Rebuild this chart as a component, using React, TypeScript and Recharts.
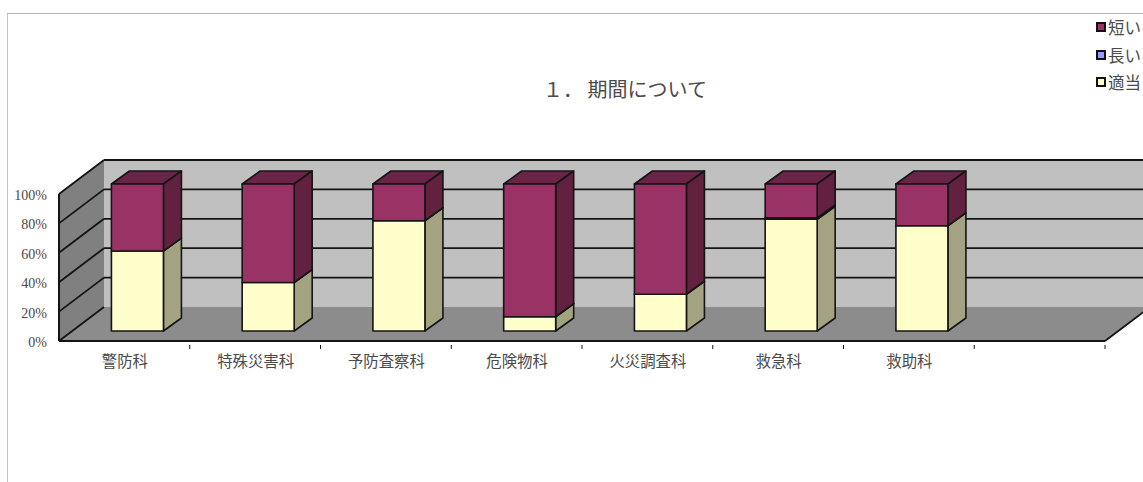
import { BarChart, Bar, XAxis, YAxis, CartesianGrid, Legend, usePlotArea } from 'recharts';

const departments = ['警防科', '特殊災害科', '予防査察科', '危険物科', '火災調査科', '救急科', '救助科', ''];
const adequate = [54.4, 33, 75, 9.7, 25, 76, 71.6, 0];
const tooLong = [0, 0, 0, 0, 0, 1, 0, 0];
const tooShort = [45.6, 67, 25, 90.3, 75, 23, 28.4, 0];
const percentTicks = [0, 20, 40, 60, 80, 100];

const rows = departments.map((name, i) => ({
  name,
  adequate: adequate[i],
  tooLong: tooLong[i],
  tooShort: tooShort[i],
}));

const WIDTH = 1143;
const HEIGHT = 482;
const SERIF = '"Liberation Serif", "Noto Sans CJK JP", serif';
const GOTHIC = '"Noto Sans CJK JP", sans-serif';

// how far the back wall sits behind the axis plane
const WALL_DX = 45;
const WALL_DY = 34;
// bars stand a little way in from the front edge of the floor
const BAR_DX = 13.2;
const BAR_DY = 10;
const BAR_DEPTH_X = 18;
const BAR_DEPTH_Y = 13;
const EDGE = '#141414';

function Walls() {
  const plot = usePlotArea();
  if (!plot) return null;
  const left = plot.x;
  const right = plot.x + plot.width;
  const top = plot.y;
  const bottom = plot.y + plot.height;
  const pts = (list: number[][]) => list.map((p) => p.join(',')).join(' ');
  return (
    <g>
      <polygon
        points={pts([[left + WALL_DX, top - WALL_DY], [right + WALL_DX, top - WALL_DY], [right + WALL_DX, bottom - WALL_DY], [left + WALL_DX, bottom - WALL_DY]])}
        fill="#c0c0c0"
      />
      <polygon
        points={pts([[left, top], [left + WALL_DX, top - WALL_DY], [left + WALL_DX, bottom - WALL_DY], [left, bottom]])}
        fill="#808080"
      />
      <polygon
        points={pts([[left, bottom], [right, bottom], [right + WALL_DX, bottom - WALL_DY], [left + WALL_DX, bottom - WALL_DY]])}
        fill="#8c8c8c"
      />
      <line x1={right} y1={bottom} x2={right + WALL_DX} y2={bottom - WALL_DY} stroke={EDGE} strokeWidth={1.8} />
    </g>
  );
}

// each grid line runs up the left wall, then along the back wall
function WallGridLine(props: any) {
  const { x1, x2, y1 } = props;
  const backY = y1 - WALL_DY;
  const isFloor = Math.abs(y1 - 341) < 1;
  return (
    <g>
      <line x1={x1} y1={y1} x2={x1 + WALL_DX} y2={backY} stroke={EDGE} strokeWidth={1.8} />
      {!isFloor && <line x1={x1 + WALL_DX} y1={backY} x2={x2 + WALL_DX} y2={backY} stroke={EDGE} strokeWidth={1.8} />}
    </g>
  );
}

function Box3D(props: any) {
  const { x, y, width, height, fill, sideFill, topFill } = props;
  if (!height || height <= 0) return null;
  const l = x + BAR_DX;
  const r = l + width;
  const t = y - BAR_DY;
  const b = t + height;
  const dx = BAR_DEPTH_X;
  const dy = BAR_DEPTH_Y;
  return (
    <g stroke={EDGE} strokeWidth={1.6} strokeLinejoin="round">
      <polygon points={`${l},${t} ${r},${t} ${r + dx},${t - dy} ${l + dx},${t - dy}`} fill={topFill} />
      <polygon points={`${r},${t} ${r + dx},${t - dy} ${r + dx},${b - dy} ${r},${b}`} fill={sideFill} />
      <rect x={l} y={t} width={width} height={height} fill={fill} />
    </g>
  );
}

function DepartmentTick(props: any) {
  const { x, y, payload } = props;
  const band = (1105 - 59) / departments.length;
  const boundary = x + band / 2;
  return (
    <g>
      <line x1={boundary} y1={y} x2={boundary} y2={y - 4} stroke={EDGE} strokeWidth={1} />
      <text x={x + 0.5} y={y + 18} textAnchor="middle" fontSize={15.4} fontFamily={SERIF} fill="#4a4a4a">
        {payload.value}
      </text>
    </g>
  );
}

function LegendList(props: any) {
  const items = [...(props.payload || [])].reverse();
  return (
    <div>
      {items.map((item: any) => (
        <div key={item.value} style={{ display: 'flex', alignItems: 'center', height: 27.5 }}>
          <span
            style={{
              display: 'inline-block',
              width: 6,
              height: 6,
              border: '2px solid #111',
              background: item.color,
              marginRight: 2,
            }}
          />
          <span style={{ fontFamily: GOTHIC, fontSize: 16.5, color: '#4a4a4a', whiteSpace: 'nowrap' }}>{item.value}</span>
        </div>
      ))}
    </div>
  );
}

export default function App() {
  return (
    <div style={{ position: 'absolute', left: 0, top: 0, width: WIDTH, height: HEIGHT, overflow: 'hidden', background: '#fff' }}>
      <div
        style={{
          position: 'absolute',
          left: 7,
          top: 13,
          right: 0,
          bottom: 0,
          borderTop: '1px solid #b4b4b4',
          borderLeft: '1px solid #c4c4c4',
        }}
      />
      <BarChart
        width={WIDTH}
        height={HEIGHT}
        data={rows}
        barCategoryGap="30%"
        margin={{ top: 194, right: 38, bottom: 0, left: 0 }}
        style={{ position: 'absolute', left: 0, top: 0 }}
      >
        <Walls />
        <CartesianGrid
          zIndex={1}
          vertical={false}
          horizontal={(p: any) => <WallGridLine key={p.index} {...p} />}
          syncWithTicks
        />
        <XAxis
          dataKey="name"
          height={141}
          interval={0}
          tickLine={false}
          axisLine={{ stroke: EDGE, strokeWidth: 2 }}
          tick={<DepartmentTick />}
        />
        <YAxis
          width={59}
          domain={[0, 100]}
          ticks={percentTicks}
          interval={0}
          tickLine={false}
          tickSize={0}
          tickMargin={12}
          tickFormatter={(v: number) => `${v}%`}
          axisLine={{ stroke: EDGE, strokeWidth: 2 }}
          tick={{ fontSize: 14, fontFamily: SERIF, fill: '#4a4a4a', dy: 1 }}
        />
        <Legend
          layout="horizontal"
          align="center"
          verticalAlign="middle"
          itemSorter={null}
          content={<LegendList />}
          wrapperStyle={{ left: 1096, top: 13.5, width: 50, height: 84 }}
        />
        <Bar
          dataKey="adequate"
          name="適当"
          stackId="a"
          fill="#ffffcc"
          isAnimationActive={false}
          shape={(p: any) => <Box3D {...p} sideFill="#a3a382" topFill="#cccca3" />}
        />
        <Bar
          dataKey="tooLong"
          name="長い"
          stackId="a"
          fill="#9999ff"
          isAnimationActive={false}
          shape={(p: any) => <Box3D {...p} sideFill="#5c5c99" topFill="#6b6bb2" />}
        />
        <Bar
          dataKey="tooShort"
          name="短い"
          stackId="a"
          fill="#993366"
          isAnimationActive={false}
          shape={(p: any) => <Box3D {...p} sideFill="#62213f" topFill="#6b2447" />}
        />
        <text x={625} y={97} textAnchor="middle" fontSize={20} fontFamily={GOTHIC} fill="#4a4a4a">
          １． 期間について
        </text>
      </BarChart>
    </div>
  );
}
